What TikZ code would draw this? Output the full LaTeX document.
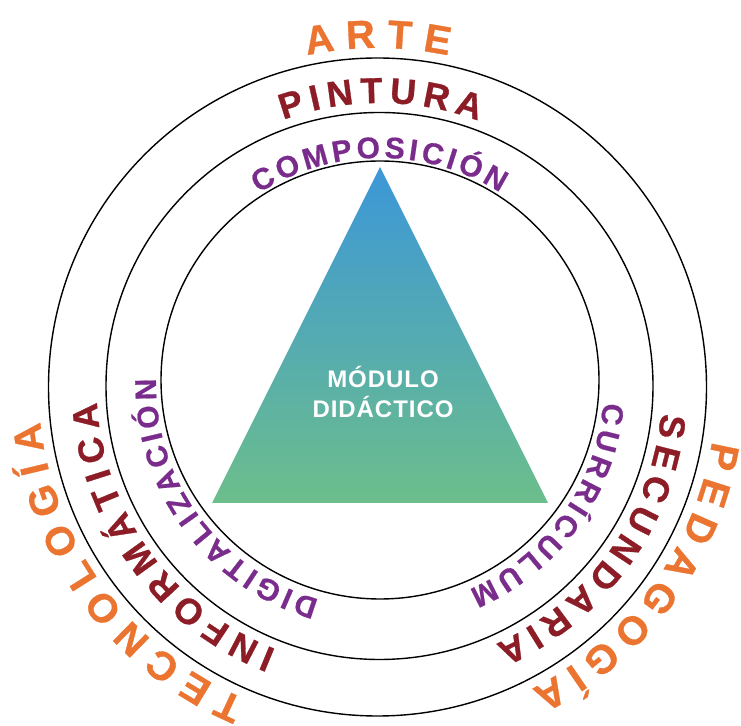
\documentclass[tikz,border=0pt]{standalone}
\usepackage{fontspec}
\setmainfont{Liberation Sans}
\usetikzlibrary{decorations.text}
\definecolor{orangeC}{HTML}{EA7430}
\definecolor{redC}{HTML}{8C1D26}
\definecolor{purpleC}{HTML}{7A2C8C}
\definecolor{blueC}{HTML}{3C97D8}
\definecolor{greenC}{HTML}{6CBE8B}
\newcommand\fOrange{\fontsize{40}{40}\selectfont\bfseries\addfontfeature{FakeBold=0.8}}
\newcommand\fRed{\fontsize{36}{36}\selectfont\bfseries\addfontfeature{FakeBold=0.8}}
\newcommand\fPurple{\fontsize{30}{30}\selectfont\bfseries\addfontfeature{FakeBold=0.6}}
\tikzset{
  ring/.style={draw=black, line width=1.4pt},
  ringtext/.style 2 args={decorate, decoration={text along path, text color=#2, text={#1}, text align={fit to path}}},
  midtext/.style={text=white, font=\fontsize{24}{30}\selectfont\bfseries\addfontfeature{LetterSpace=4}, align=center}
}
\begin{document}
\begin{tikzpicture}[x=1pt,y=1pt]
\useasboundingbox (0,0) rectangle (741,725);
% centres
\coordinate (oc) at (377.5,338);
\coordinate (mc) at (379.5,339);
\coordinate (ic) at (380,345);
\coordinate (tc) at (380,341);
% rings
\draw[ring] (oc) circle[radius=329pt];
\draw[ring] (mc) circle[radius=273.5pt];
\draw[ring] (ic) circle[radius=219pt];
% triangle
\coordinate (apex) at (380,558);
\coordinate (bl) at (212,222);
\coordinate (br) at (548,222);
\shade[top color=blueC, bottom color=greenC] (apex) -- (bl) -- (br) -- cycle;
\node[midtext] (mod) at (383,333) {MÓDULO\\DIDÁCTICO};
% outer texts
\path[ringtext={|\fOrange|ARTE}{orangeC}] (oc) ++(102:339pt) arc[start angle=102, end angle=77.9, radius=339pt];
\path[ringtext={|\fOrange|TECNOLOGÍA}{orangeC}] (oc) ++(247:339pt) arc[start angle=247, end angle=185.9, radius=339pt];
\path[ringtext={|\fOrange|PEDAGOGÍA}{orangeC}] (oc) ++(350.8:339pt) arc[start angle=350.8, end angle=297, radius=339pt];
% middle texts
\path[ringtext={|\fRed|PINTURA}{redC}] (mc) ++(109.9:283pt) arc[start angle=109.9, end angle=69.6, radius=283pt];
\path[ringtext={|\fRed|SECUNDARIA}{redC}] (mc) ++(354.5:283pt) arc[start angle=354.5, end angle=294.2, radius=283pt];
\path[ringtext={|\fRed|INFORMÁTICA}{redC}] (mc) ++(248.6:283pt) arc[start angle=248.6, end angle=183.3, radius=283pt];
% inner texts
\path[ringtext={|\fPurple|COMPOSICIÓN}{purpleC}] (tc) ++(122.5:226pt) arc[start angle=122.5, end angle=57.9, radius=226pt];
\path[ringtext={|\fPurple|DIGITALIZACIÓN}{purpleC}] (tc) ++(254.2:224pt) arc[start angle=254.2, end angle=178.6, radius=224pt];
\path[ringtext={|\fPurple|CURRÍCULUM}{purpleC}] (tc) ++(355.3:224pt) arc[start angle=355.3, end angle=293.4, radius=224pt];
\end{tikzpicture}
\end{document}
